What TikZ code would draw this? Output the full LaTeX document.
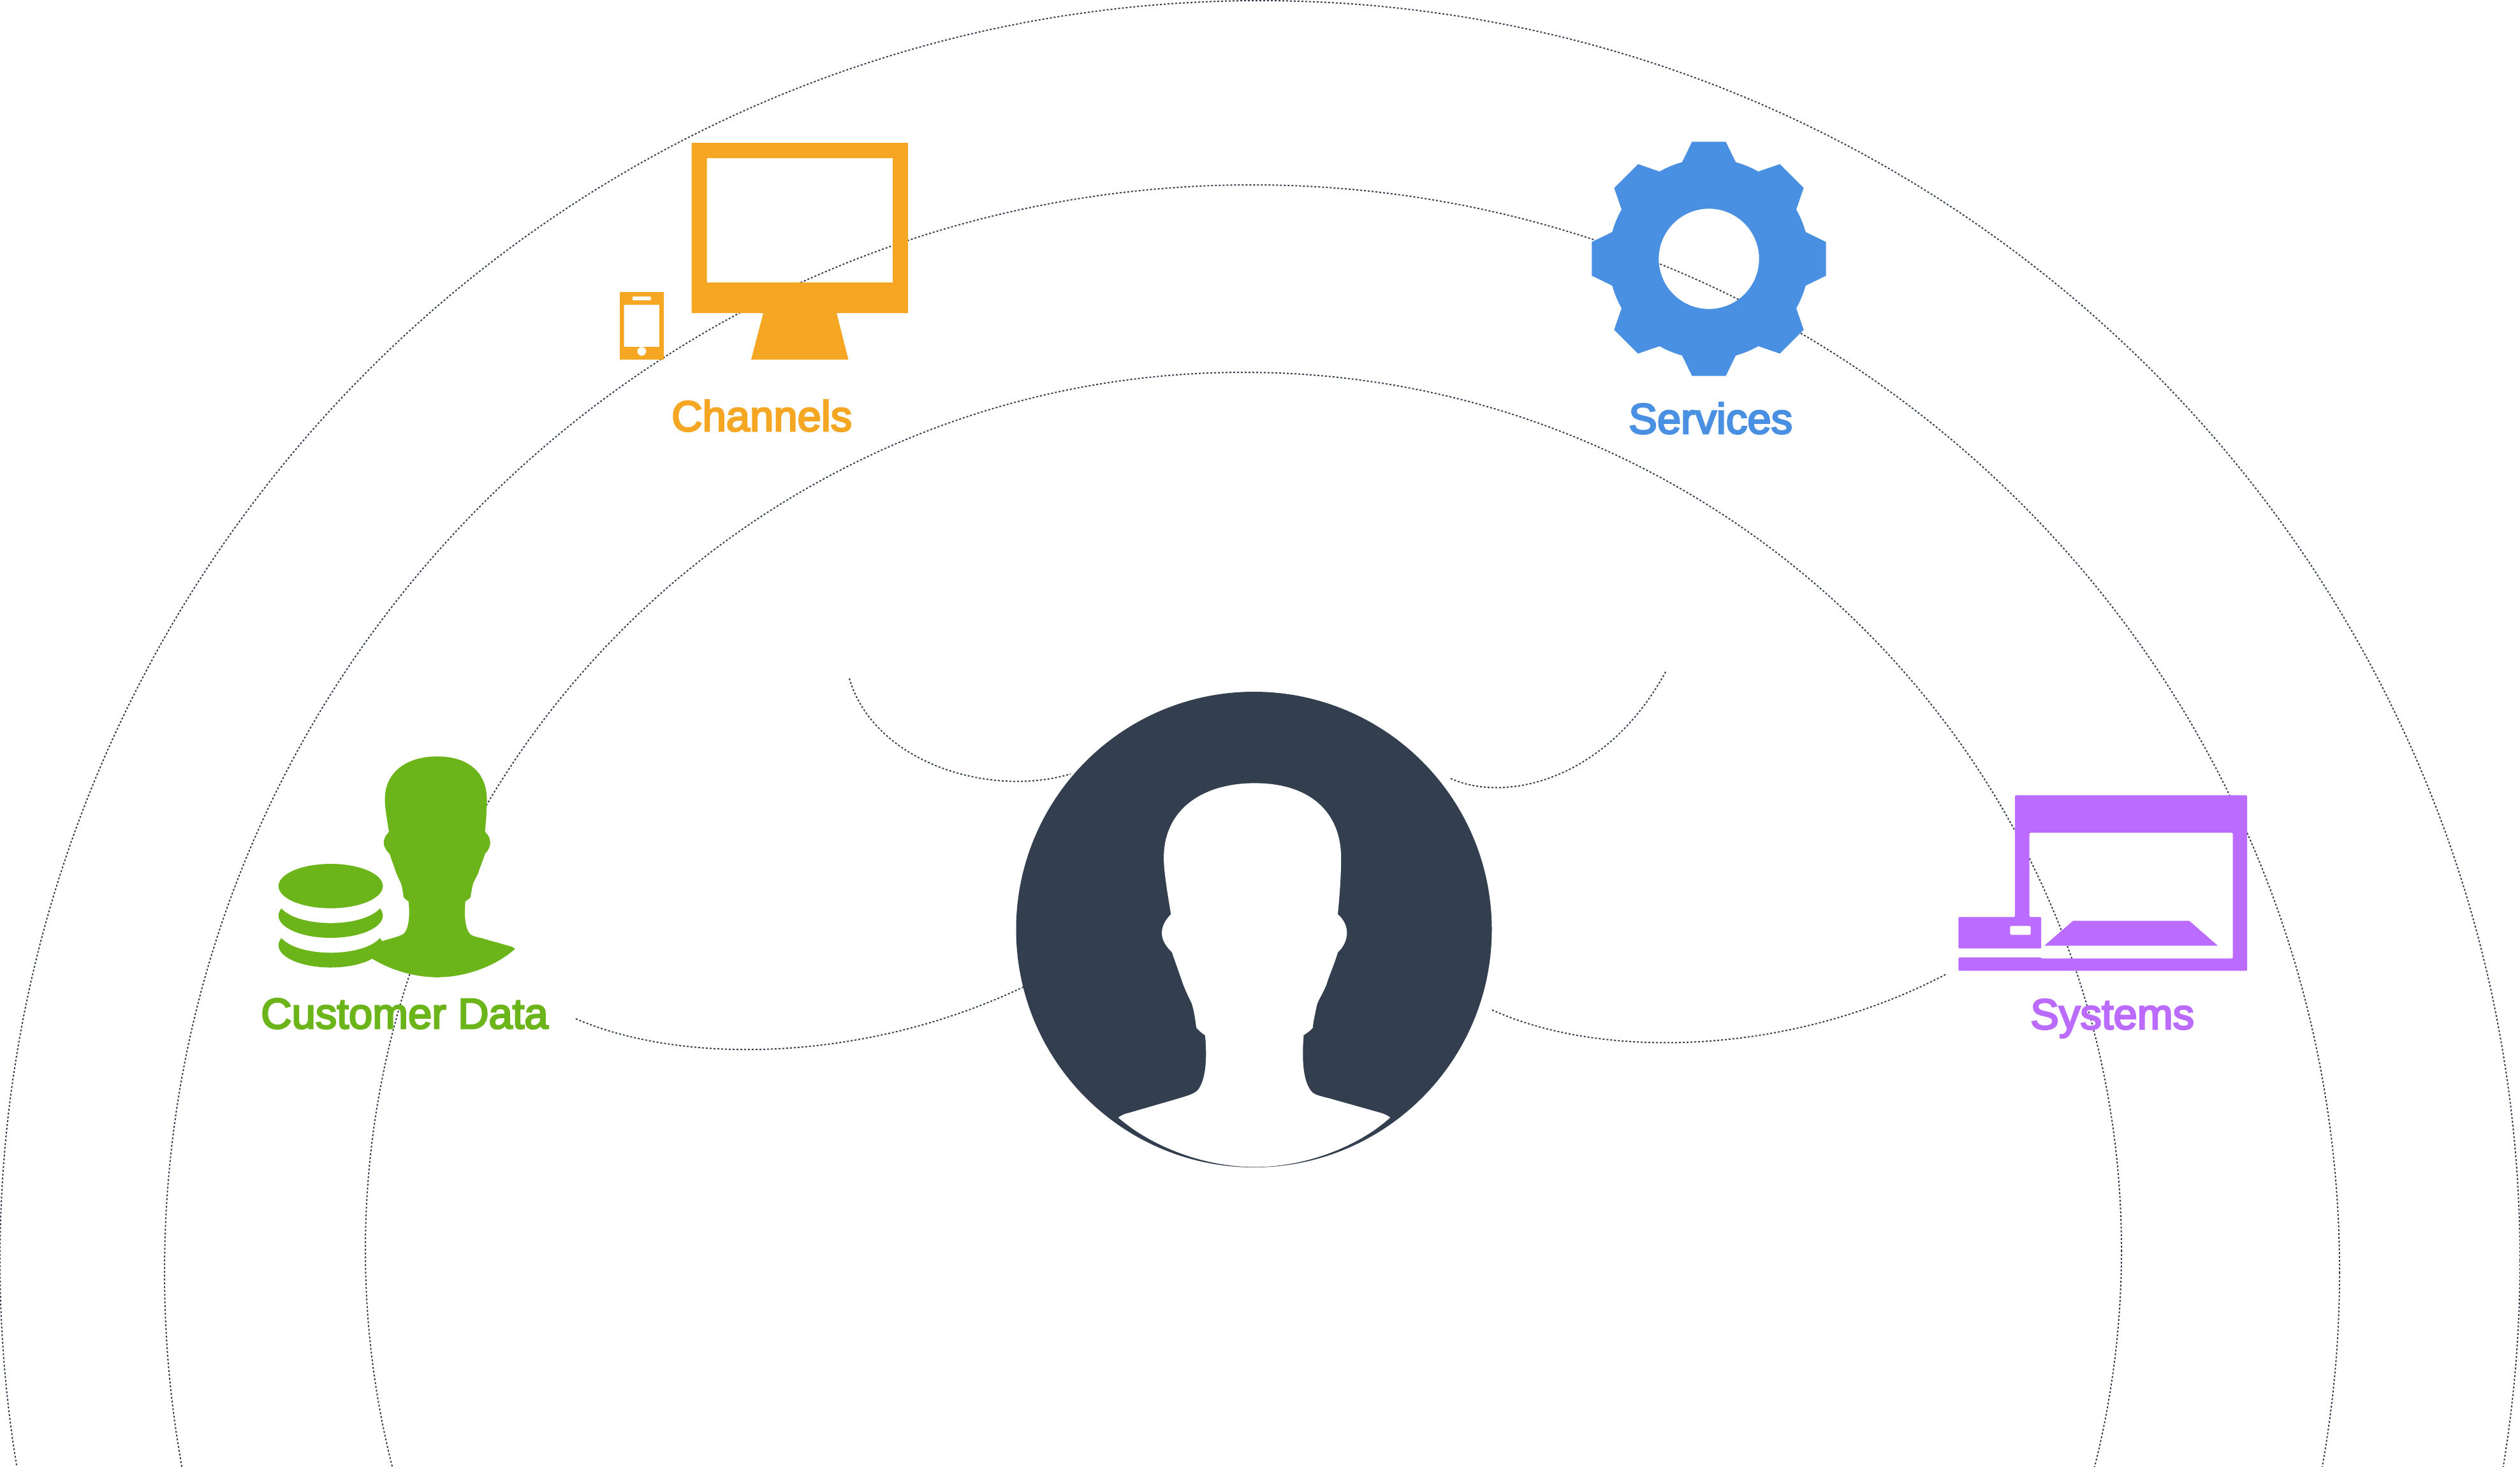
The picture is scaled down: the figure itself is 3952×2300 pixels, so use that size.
\documentclass[tikz,border=0pt]{standalone}
\usepackage{fontspec}
\setmainfont{Liberation Sans}
\newfontfamily\labfont{Liberation Sans}[FakeBold=4]
\definecolor{ink}{HTML}{333F4F}
\definecolor{chan}{HTML}{F5A623}
\definecolor{serv}{HTML}{4A90E2}
\definecolor{cust}{HTML}{6BB51A}
\definecolor{syst}{HTML}{BB6BFF}
\tikzset{
  ringline/.style={draw=ink,line width=2pt,dash pattern=on 3pt off 3pt},
  lab/.style={inner sep=0pt,anchor=base west,font=\fontsize{67}{70}\selectfont\labfont},
}
\newcommand\headoutline{
  (360,1358) .. controls (372,1350) and (378,1347) .. (395,1343)
  -- (550,1298)
  .. controls (590,1286) and (604,1280) .. (612,1262)
  .. controls (632,1225) and (632,1160) .. (627,1105)
  .. controls (615,1098) and (608,1090) .. (600,1082)
  .. controls (596,1050) and (592,1025) .. (585,1005)
  .. controls (575,985) and (570,975) .. (560,950)
  -- (525,850)
  .. controls (505,830) and (494,812) .. (494,790)
  .. controls (494,770) and (505,750) .. (522,733)
  .. controls (510,660) and (500,600) .. (500,560)
  .. controls (500,410) and (620,330) .. (780,330)
  .. controls (950,330) and (1045,420) .. (1045,560)
  .. controls (1045,620) and (1040,680) .. (1035,733)
  .. controls (1052,748) and (1063,768) .. (1063,790)
  .. controls (1063,812) and (1052,835) .. (1035,850)
  .. controls (1025,885) and (1005,930) .. (1000,950)
  .. controls (985,985) and (975,995) .. (970,1015)
  .. controls (965,1040) and (960,1060) .. (958,1082)
  .. controls (950,1092) and (940,1098) .. (930,1105)
  .. controls (925,1170) and (925,1250) .. (958,1282)
  .. controls (970,1290) and (985,1293) .. (1005,1298)
  -- (1165,1343)
  .. controls (1180,1347) and (1188,1352) .. (1196,1358)
  .. controls (1100,1445) and (940,1510) .. (780,1510)
  .. controls (620,1510) and (460,1445) .. (360,1358) -- cycle
}
\begin{document}
\begin{tikzpicture}[x=1pt,y=-1pt]
\useasboundingbox (0,0) rectangle (3952,2300);
\clip (0,0) rectangle (3952,2300);
\fill[white] (0,0) rectangle (3952,2300);

% rings
\draw[ringline] (1976,1977) circle[radius=1976];
\draw[ringline] (1963.5,1995.5) circle[radius=1705.5];
\draw[ringline] (1950,1961) circle[radius=1377];

% person
\node[circle,fill=ink,inner sep=0pt,minimum size=746pt] (person) at (1966.5,1458) {};
\begin{scope}[shift={(1570,1060)},x=0.5102pt,y=-0.5102pt]
  \fill[white] \headoutline;
\end{scope}

% connectors
\coordinate (a1s) at (1332,1064); \coordinate (a1e) at (1679,1214);
\coordinate (a2s) at (2275,1221); \coordinate (a2e) at (2613,1052);
\coordinate (a3s) at (903,1598);  \coordinate (a3e) at (1605,1548);
\coordinate (a4s) at (2340,1584); \coordinate (a4e) at (3052,1528);
\draw[ringline] (a1s) .. controls (1370,1195) and (1550,1252) .. (a1e);
\draw[ringline] (a2s) .. controls (2360,1260) and (2520,1225) .. (a2e);
\draw[ringline] (a3s) .. controls (1075,1672) and (1360,1665) .. (a3e);
\draw[ringline] (a4s) .. controls (2505,1660) and (2800,1660) .. (a4e);

% channels
\fill[chan,even odd rule] (1084.5,224) rectangle (1424,491) (1108.6,248) rectangle (1400,443);
\fill[chan] (1197,491) -- (1312,491) -- (1330.5,564) -- (1178,564) -- cycle;
\fill[chan,even odd rule] (972,458) rectangle (1041,564)
  (978.5,478) rectangle (1034,544)
  (992,465) rectangle (1020.5,471)
  (1006.4,551) circle[radius=7];
\node[lab,text=chan] (channels) at (1053,676) {Channels};

% services
\begin{scope}[shift={(2680,406)}]
  \fill[serv,even odd rule] (-15.5:157.4)
    \foreach \a in {0,45,...,315}{
      -- (\a-15.5:157.4) -- (\a-8.2:185.6) -- (\a+8.2:185.6) -- (\a+15.5:157.4)
      -- (\a+19:157.4) -- (\a+22.5:157.4) -- (\a+26:157.4) -- (\a+29.5:157.4)
    } -- cycle
    (0,0) circle[radius=78.7];
\end{scope}
\node[lab,text=serv] (services) at (2554,680) {Services};

% customer data
\begin{scope}[shift={(456.8,1089.6)},x=0.2935pt,y=-0.2935pt]
  \fill[cust] \headoutline;
\end{scope}
\fill[cust] (518.6,1482.7) ellipse[x radius=81.8,y radius=34.8];
\fill[white] (518.6,1459.5) ellipse[x radius=81.8,y radius=34.8];
\fill[cust] (518.6,1436.2) ellipse[x radius=81.8,y radius=34.8];
\fill[white] (518.6,1413) ellipse[x radius=81.8,y radius=34.8];
\fill[cust] (518.6,1389.8) ellipse[x radius=81.8,y radius=34.8];
\node[lab,text=cust] (customer) at (409,1613) {Customer Data};

% systems
\fill[syst,even odd rule,rounded corners=1.5pt]
  (3160,1247.3) -- (3524,1247.3) -- (3524,1522.7) -- (3071.3,1522.7) -- (3071.3,1501.7)
  -- (3201,1501.7) -- (3201,1503.3) -- (3501.7,1503.3) -- (3501.7,1306) -- (3182.7,1306)
  -- (3182.7,1438.3) -- (3201,1438.3) -- (3201,1487.7) -- (3071.3,1487.7) -- (3071.3,1438.3)
  -- (3160,1438.3) -- cycle
  (3152.3,1452.3) rectangle (3184.7,1466.3);
\fill[syst] (3206,1483.3) -- (3251,1444.3) -- (3433.3,1444.3) -- (3478,1483.3) -- cycle;
\node[lab,text=syst] (systems) at (3184,1614) {Systems};
\end{tikzpicture}
\end{document}
